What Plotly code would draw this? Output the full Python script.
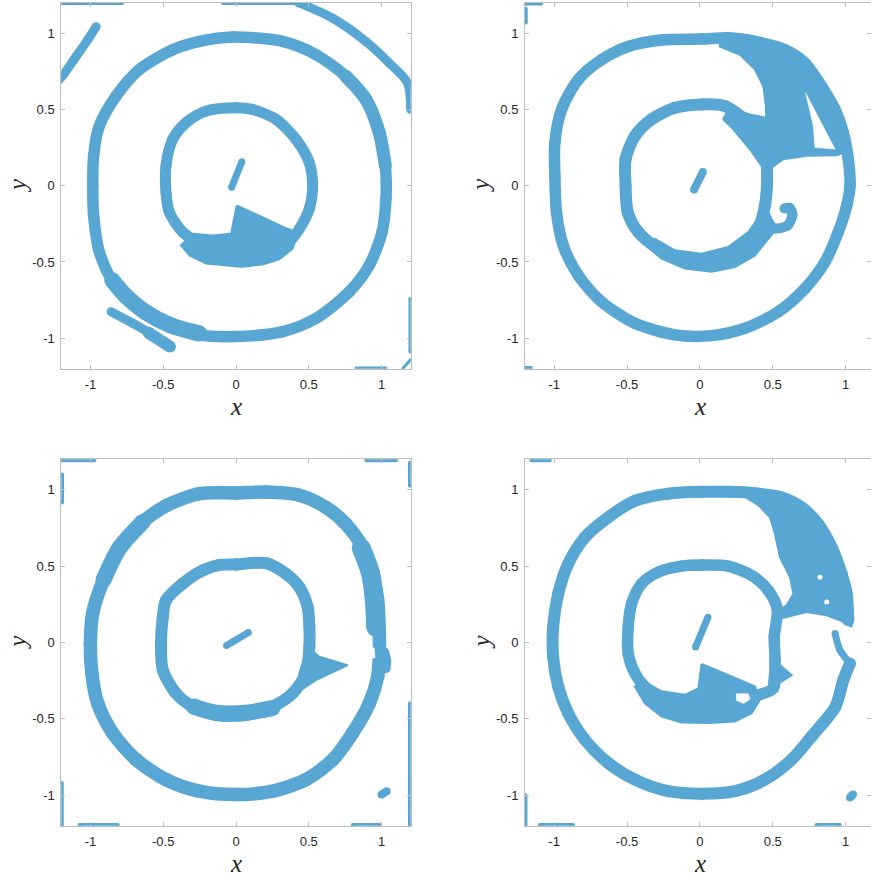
import plotly.graph_objects as go

W, H = 871, 878
BLUE = "rgb(88,166,211)"
AXIS_GRAY = "#bdbdbd"

# ---------------- panel 1 (top left) ----------------
P1_OUTER_X = [-0.02, 0.32, 0.55, 0.755, 0.893, 0.984, 1.026, 1.03, 1.003, 0.916, 0.778, 0.549, 0.32, 0.0,
              -0.252, -0.527, -0.71, -0.847, -0.939, -0.978, -0.984, -0.978, -0.939, -0.824, -0.664, -0.435,
              -0.252, -0.02]
P1_OUTER_Y = [0.975, 0.946, 0.859, 0.717, 0.565, 0.348, 0.13, -0.087, -0.304, -0.522, -0.696, -0.87, -0.957,
              -0.989, -0.978, -0.885, -0.77, -0.63, -0.435, -0.196, 0.0, 0.196, 0.391, 0.587, 0.761, 0.891,
              0.946, 0.975]
P1_OUTER_LL_X = [-0.25, -0.45, -0.62, -0.76, -0.85]
P1_OUTER_LL_Y = [-0.97, -0.915, -0.83, -0.72, -0.62]
P1_OUTER_UR_X = [0.755, 0.893, 0.984, 1.026]
P1_OUTER_UR_Y = [0.717, 0.565, 0.348, 0.13]
P1_INNER_X = [0.0, 0.114, 0.275, 0.412, 0.503, 0.526, 0.503, 0.435, 0.343, 0.183, 0.0, -0.229, -0.366, -0.458,
              -0.481, -0.481, -0.435, -0.343, -0.206, 0.0]
P1_INNER_Y = [0.511, 0.5, 0.435, 0.304, 0.152, 0.0, -0.152, -0.283, -0.391, -0.478, -0.5, -0.391, -0.304,
              -0.174, -0.043, 0.13, 0.304, 0.413, 0.489, 0.511]
P1_LOBE_X = [0.005, 0.343, 0.423, 0.389, 0.297, 0.183, -0.023, -0.206, -0.32, -0.378, -0.297, -0.16, -0.034]
P1_LOBE_Y = [-0.13, -0.278, -0.304, -0.413, -0.483, -0.517, -0.526, -0.511, -0.457, -0.391, -0.315, -0.326, -0.315]
P1_CORE_X = [-0.03, 0.04]
P1_CORE_Y = [-0.01, 0.157]
P1_ARC_TL_X = [-1.22, -1.185, -1.098, -1.018, -0.961]
P1_ARC_TL_Y = [0.69, 0.728, 0.848, 0.957, 1.043]
P1_ARC_TR_X = [0.43, 0.664, 0.892, 1.053, 1.178, 1.2]
P1_ARC_TR_Y = [1.2, 1.098, 0.946, 0.804, 0.674, 0.5]
P1_STREAK_X = [-0.858, -0.709, -0.572, -0.446]
P1_STREAK_Y = [-0.826, -0.902, -0.978, -1.061]
P1_STREAK_END_X = [-0.6, -0.455]
P1_STREAK_END_Y = [-0.965, -1.055]
P1_EDGES = [([-1.2, -0.78], [1.195, 1.195]), ([-0.09, 0.45], [1.195, 1.195]),
            ([1.195, 1.195], [-0.74, -1.09]), ([0.824, 1.03], [-1.195, -1.195]),
            ([1.145, 1.2], [-1.2, -1.14])]

# ---------------- panel 2 (top right) ----------------
P2_OUTER_X = [0.011, -0.263, -0.492, -0.675, -0.835, -0.949, -0.995, -0.995, -0.984, -0.938, -0.835, -0.675,
              -0.446, -0.172, 0.08, 0.309, 0.538, 0.721, 0.858, 0.949, 1.007, 1.03, 1.018, 0.984, 0.927, 0.835,
              0.721, 0.584, 0.378, 0.194, 0.011]
P2_OUTER_Y = [0.962, 0.956, 0.913, 0.826, 0.696, 0.5, 0.283, 0.065, -0.174, -0.391, -0.587, -0.761, -0.902,
              -0.978, -0.983, -0.935, -0.826, -0.674, -0.5, -0.304, -0.13, 0.0, 0.174, 0.348, 0.5, 0.652, 0.804,
              0.891, 0.946, 0.97, 0.962]
P2_INNER_X = [0.309, 0.172, 0.011, -0.172, -0.332, -0.446, -0.51, -0.51, -0.495, -0.423, -0.286, -0.126, 0.057,
              0.194, 0.309, 0.4, 0.446, 0.46, 0.46]
P2_INNER_Y = [0.435, 0.522, 0.533, 0.511, 0.435, 0.326, 0.174, 0.0, -0.174, -0.304, -0.413, -0.489, -0.511,
              -0.478, -0.402, -0.283, -0.13, 0.0, 0.13]
P2_CRESCENT_X = [-0.40, -0.263, -0.103, 0.08, 0.24, 0.378, 0.469, 0.526, 0.469, 0.412, 0.332, 0.194, 0.011,
                 -0.172, -0.309]
P2_CRESCENT_Y = [-0.37, -0.478, -0.543, -0.565, -0.533, -0.457, -0.348, -0.283, -0.174, -0.196, -0.304, -0.402,
                 -0.446, -0.424, -0.348]
P2_CURL_X = [0.47, 0.515, 0.6, 0.635, 0.615, 0.58]
P2_CURL_Y = [-0.25, -0.28, -0.262, -0.19, -0.145, -0.15]
P2_LOBE_X = [0.137, 0.378, 0.584, 0.721, 0.835, 0.927, 0.984, 1.0, 0.938, 0.732, 0.572, 0.492, 0.469, 0.423,
             0.343, 0.229, 0.16, 0.2, 0.343, 0.453, 0.453, 0.435, 0.378, 0.275, 0.137]
P2_LOBE_Y = [0.967, 0.946, 0.891, 0.804, 0.652, 0.5, 0.348, 0.22, 0.2, 0.196, 0.174, 0.12, 0.04, 0.13, 0.239,
             0.37, 0.435, 0.51, 0.467, 0.446, 0.522, 0.652, 0.761, 0.859, 0.913]
P2_HOLE_X = [0.725, 0.927, 0.789, 0.778]
P2_HOLE_Y = [0.609, 0.24, 0.25, 0.391]
P2_CORE_X = [-0.04, 0.02]
P2_CORE_Y = [-0.025, 0.09]
P2_EDGES = [([-1.2, -1.09], [1.195, 1.195]), ([-1.195, -1.195], [1.16, 1.07]),
            ([-1.2, -1.16], [-1.195, -1.195])]

# ---------------- panel 3 (bottom left) ----------------
P3_OUTER_X = [0.0, -0.252, -0.47, -0.64, -0.80, -0.91, -0.985, -1.0, -0.99, -0.95, -0.847, -0.686, -0.481,
              -0.252, 0.0, 0.252, 0.481, 0.666, 0.801, 0.916, 0.973, 0.984, 0.984, 0.973, 0.938, 0.87, 0.755,
              0.618, 0.435, 0.206, 0.0]
P3_OUTER_Y = [0.98, 0.975, 0.9, 0.79, 0.62, 0.41, 0.189, -0.007, -0.202, -0.398, -0.593, -0.767, -0.898,
              -0.974, -0.996, -0.974, -0.898, -0.767, -0.593, -0.398, -0.224, -0.093, 0.08, 0.276, 0.45, 0.624,
              0.776, 0.885, 0.965, 0.985, 0.98]
P3_OUTER_R_X = [0.86, 0.925, 0.95, 0.96]
P3_OUTER_R_Y = [0.62, 0.45, 0.276, 0.1]
P3_OUTER_UL_X = [-0.64, -0.80, -0.91]
P3_OUTER_UL_Y = [0.79, 0.62, 0.41]
P3_BUMP_X = [1.02, 1.035, 1.03]
P3_BUMP_Y = [-0.06, -0.12, -0.17]
P3_BITE_X = [0.905, 0.95, 0.955, 0.91]
P3_BITE_Y = [0.0, -0.04, -0.1, -0.11]
P3_INNER_X = [0.0, 0.206, 0.343, 0.435, 0.492, 0.504, 0.504, 0.481, 0.389, 0.252, 0.069, -0.137, -0.297, -0.412,
              -0.503, -0.515, -0.503, -0.481, -0.366, -0.229, -0.114, 0.0]
P3_INNER_Y = [0.511, 0.52, 0.45, 0.363, 0.233, 0.102, -0.028, -0.202, -0.333, -0.42, -0.474, -0.474, -0.42,
              -0.333, -0.18, -0.007, 0.167, 0.276, 0.385, 0.472, 0.508, 0.511]
P3_INNER_B_X = [0.25, 0.07, -0.14, -0.29]
P3_INNER_B_Y = [-0.43, -0.46, -0.46, -0.42]
P3_WEDGE_X = [0.492, 0.572, 0.767, 0.549, 0.446, 0.435]
P3_WEDGE_Y = [-0.028, -0.093, -0.148, -0.246, -0.311, -0.202]
P3_CORE_X = [-0.065, 0.085]
P3_CORE_Y = [-0.02, 0.065]
P3_BLOB_X = [1.0, 1.035]
P3_BLOB_Y = [-0.995, -0.975]
P3_EDGES = [([-1.2, -0.973], [1.193, 1.193]), ([-1.195, -1.195], [1.10, 0.917]),
            ([0.895, 1.099], [1.193, 1.193]), ([1.195, 1.195], [1.178, 1.026]),
            ([-1.197, -1.197], [-0.92, -1.2]), ([-1.075, -0.812], [-1.195, -1.195]),
            ([0.802, 0.985], [-1.195, -1.195]), ([1.195, 1.195], [-0.398, -1.2])]

# ---------------- panel 4 (bottom right) ----------------
P4_FRAG_X = [0.927, 0.961, 1.03]
P4_FRAG_Y = [0.059, -0.05, -0.137]
P4_OUTER_X = [1.03, 0.984, 0.93, 0.766, 0.629, 0.446, 0.24, 0.011, -0.217, -0.446, -0.629, -0.789, -0.904,
              -0.972, -1.007, -1.007, -0.972, -0.904, -0.789, -0.629, -0.446, -0.217, 0.011, 0.194, 0.378, 0.561,
              0.698, 0.812, 0.904, 0.972, 1.007, 1.018]
P4_OUTER_Y = [-0.137, -0.246, -0.42, -0.615, -0.767, -0.898, -0.974, -0.99, -0.974, -0.898, -0.789, -0.637,
              -0.463, -0.289, -0.093, 0.102, 0.32, 0.515, 0.689, 0.82, 0.928, 0.975, 0.987, 0.987, 0.978, 0.95,
              0.885, 0.776, 0.624, 0.45, 0.32, 0.146]
P4_LOBE_X = [0.30, 0.40, 0.481, 0.515, 0.549, 0.618, 0.641, 0.595, 0.526, 0.503, 0.595, 0.732, 0.87, 0.961,
             1.041, 1.03, 1.007, 0.972, 0.904, 0.812, 0.698, 0.561, 0.378]
P4_LOBE_Y = [0.96, 0.90, 0.82, 0.711, 0.559, 0.428, 0.32, 0.243, 0.2, 0.146, 0.167, 0.2, 0.178, 0.146, 0.102,
             0.2, 0.32, 0.45, 0.624, 0.776, 0.885, 0.95, 0.978]
P4_INNER_X = [0.011, 0.194, 0.355, 0.469, 0.53, 0.51, 0.515, 0.503, 0.366, 0.194, 0.011, -0.217, -0.355, -0.446,
              -0.492, -0.492, -0.469, -0.4, -0.286, -0.126, 0.011]
P4_INNER_Y = [0.507, 0.5, 0.439, 0.341, 0.22, 0.037, -0.115, -0.3, -0.354, -0.42, -0.441, -0.398, -0.311,
              -0.202, -0.072, 0.102, 0.254, 0.385, 0.461, 0.5, 0.507]
P4_SPIKE_X = [0.49, 0.629, 0.47]
P4_SPIKE_Y = [-0.1, -0.213, -0.31]
P4_BASIN_X = [0.011, 0.194, 0.378, 0.412, 0.355, 0.24, 0.057, -0.126, -0.263, -0.378, -0.446, -0.4, -0.263,
              -0.103, -0.011]
P4_BASIN_Y = [-0.141, -0.213, -0.289, -0.376, -0.463, -0.517, -0.528, -0.524, -0.485, -0.398, -0.289, -0.246,
              -0.32, -0.343, -0.3]
P4_HOLE_X = [0.25, 0.33, 0.345, 0.30, 0.25]
P4_HOLE_Y = [-0.335, -0.335, -0.37, -0.40, -0.38]
P4_PORES_X = [0.824, 0.87]
P4_PORES_Y = [0.428, 0.265]
P4_CORE_X = [-0.03, 0.055]
P4_CORE_Y = [-0.03, 0.165]
P4_BLOB_X = [1.03, 1.05]
P4_BLOB_Y = [-1.015, -0.995]
P4_EDGES = [([-1.156, -1.03], [1.193, 1.193]), ([-1.197, -1.197], [-1.0, -1.2]),
            ([-1.098, -0.87], [-1.195, -1.195]), ([0.8, 0.96], [-1.195, -1.195])]

X_TICKS = [-1, -0.5, 0, 0.5, 1]
X_TICK_TEXT = ["-1", "-0.5", "0", "0.5", "1"]
Y_TICKS = [-1, -0.5, 0, 0.5, 1]
Y_TICK_TEXT = ["-1", "-0.5", "0", "0.5", "1"]

# Each panel: bands (centre line, stroke width px), filled patches, white holes, pores
PANELS = [
    dict(bands=[(P1_OUTER_X, P1_OUTER_Y, 11.5), (P1_OUTER_LL_X, P1_OUTER_LL_Y, 16),
                (P1_OUTER_UR_X, P1_OUTER_UR_Y, 13), (P1_INNER_X, P1_INNER_Y, 11),
                (P1_CORE_X, P1_CORE_Y, 7), (P1_ARC_TL_X, P1_ARC_TL_Y, 9), (P1_ARC_TR_X, P1_ARC_TR_Y, 9),
                (P1_STREAK_X, P1_STREAK_Y, 9), (P1_STREAK_END_X, P1_STREAK_END_Y, 12)]
         + [(ex, ey, 3) for ex, ey in P1_EDGES],
         patches=[(P1_LOBE_X, P1_LOBE_Y)], holes=[], pores=None),
    dict(bands=[(P2_OUTER_X, P2_OUTER_Y, 11.5), (P2_INNER_X, P2_INNER_Y, 12), (P2_CURL_X, P2_CURL_Y, 10),
                (P2_CORE_X, P2_CORE_Y, 8)] + [(ex, ey, 4) for ex, ey in P2_EDGES],
         patches=[(P2_CRESCENT_X, P2_CRESCENT_Y), (P2_LOBE_X, P2_LOBE_Y)],
         holes=[(P2_HOLE_X, P2_HOLE_Y)], pores=None),
    dict(bands=[(P3_OUTER_X, P3_OUTER_Y, 13.5), (P3_OUTER_R_X, P3_OUTER_R_Y, 19),
                (P3_OUTER_UL_X, P3_OUTER_UL_Y, 16), (P3_BUMP_X, P3_BUMP_Y, 9), (P3_INNER_X, P3_INNER_Y, 12),
                (P3_INNER_B_X, P3_INNER_B_Y, 16), (P3_CORE_X, P3_CORE_Y, 7), (P3_BLOB_X, P3_BLOB_Y, 8)]
         + [(ex, ey, 4) for ex, ey in P3_EDGES],
         patches=[(P3_WEDGE_X, P3_WEDGE_Y)], holes=[(P3_BITE_X, P3_BITE_Y)], pores=None),
    dict(bands=[(P4_FRAG_X, P4_FRAG_Y, 7), (P4_OUTER_X, P4_OUTER_Y, 12), (P4_INNER_X, P4_INNER_Y, 11.5),
                (P4_CORE_X, P4_CORE_Y, 7), (P4_BLOB_X, P4_BLOB_Y, 8)]
         + [(ex, ey, 4) for ex, ey in P4_EDGES],
         patches=[(P4_LOBE_X, P4_LOBE_Y), (P4_SPIKE_X, P4_SPIKE_Y), (P4_BASIN_X, P4_BASIN_Y)],
         holes=[(P4_HOLE_X, P4_HOLE_Y)], pores=(P4_PORES_X, P4_PORES_Y)),
]

# Plot-area boxes in pixels: (left, right, top, bottom), and x-range of each panel
BOXES = [(61.3, 410.7, 2.7, 368.7), (525.0, 871.0, 2.7, 368.7),
         (61.3, 410.7, 459.3, 825.7), (525.0, 871.0, 459.3, 825.7)]
X_RANGES = [[-1.2, 1.2], [-1.2, 1.1737], [-1.2, 1.2], [-1.2, 1.1737]]


def closed(seq):
    return list(seq) + [seq[0]]


fig = go.Figure()

for i, panel in enumerate(PANELS):
    xa = "x" if i == 0 else f"x{i + 1}"
    ya = "y" if i == 0 else f"y{i + 1}"
    # ridges / rings as thick rounded strokes
    for bx, by, w in panel["bands"]:
        fig.add_trace(go.Scatter(x=bx, y=by, mode="lines+markers",
                                 line=dict(width=w, color=BLUE, shape="spline", smoothing=0.8),
                                 marker=dict(size=w, color=BLUE, line=dict(width=0)),
                                 hoverinfo="skip", showlegend=False, xaxis=xa, yaxis=ya))
    # solid filled lobes
    for px, py in panel["patches"]:
        fig.add_trace(go.Scatter(x=closed(px), y=closed(py), mode="lines", fill="toself", fillcolor=BLUE,
                                 line=dict(width=2, color=BLUE, simplify=False),
                                 hoverinfo="skip", showlegend=False, xaxis=xa, yaxis=ya))
    # empty pockets inside the lobes
    for hx, hy in panel["holes"]:
        fig.add_trace(go.Scatter(x=closed(hx), y=closed(hy), mode="lines", fill="toself", fillcolor="white",
                                 line=dict(width=0.5, color="white", simplify=False),
                                 hoverinfo="skip", showlegend=False, xaxis=xa, yaxis=ya))
    if panel["pores"] is not None:
        fig.add_trace(go.Scatter(x=panel["pores"][0], y=panel["pores"][1], mode="markers",
                                 marker=dict(size=5, color="white", line=dict(width=0)),
                                 hoverinfo="skip", showlegend=False, xaxis=xa, yaxis=ya))

tick_font = dict(family="Liberation Sans, Arial, sans-serif", size=13, color="#262626")
title_font = dict(family="Liberation Serif, Times New Roman, serif", size=25, color="#262626")

layout = dict(width=W, height=H, margin=dict(l=0, r=0, t=0, b=0),
              paper_bgcolor="white", plot_bgcolor="white", showlegend=False)
annotations = []
for i, (l, r, t, b) in enumerate(BOXES):
    sx = "" if i == 0 else str(i + 1)
    layout["xaxis" + sx] = dict(domain=[l / W, r / W], range=X_RANGES[i], anchor="y" + sx,
                                tickvals=X_TICKS, ticktext=X_TICK_TEXT, ticks="inside", ticklen=4,
                                tickcolor=AXIS_GRAY, showline=True, linecolor=AXIS_GRAY, linewidth=1,
                                mirror="ticks", showgrid=False, zeroline=False, tickfont=tick_font,
                                ticklabelstandoff=4)
    layout["yaxis" + sx] = dict(domain=[1 - b / H, 1 - t / H], range=[-1.2, 1.2], anchor="x" + sx,
                                tickvals=Y_TICKS, ticktext=Y_TICK_TEXT, ticks="inside", ticklen=4,
                                tickcolor=AXIS_GRAY, showline=True, linecolor=AXIS_GRAY, linewidth=1,
                                mirror="ticks", showgrid=False, zeroline=False, tickfont=tick_font,
                                ticklabelstandoff=3)
    x0_px = l + (0 - X_RANGES[i][0]) / (X_RANGES[i][1] - X_RANGES[i][0]) * (r - l)
    yc_px = (t + b) / 2
    annotations.append(dict(text="<i>x</i>", xref="paper", yref="paper", x=x0_px / W, y=1 - (b + 38) / H,
                            showarrow=False, font=title_font, xanchor="center", yanchor="middle"))
    annotations.append(dict(text="<i>y</i>", xref="paper", yref="paper", x=(l - 44) / W, y=1 - yc_px / H,
                            showarrow=False, font=title_font, textangle=-90, xanchor="center",
                            yanchor="middle"))
layout["annotations"] = annotations
fig.update_layout(**layout)

fig.write_html("out.html")
